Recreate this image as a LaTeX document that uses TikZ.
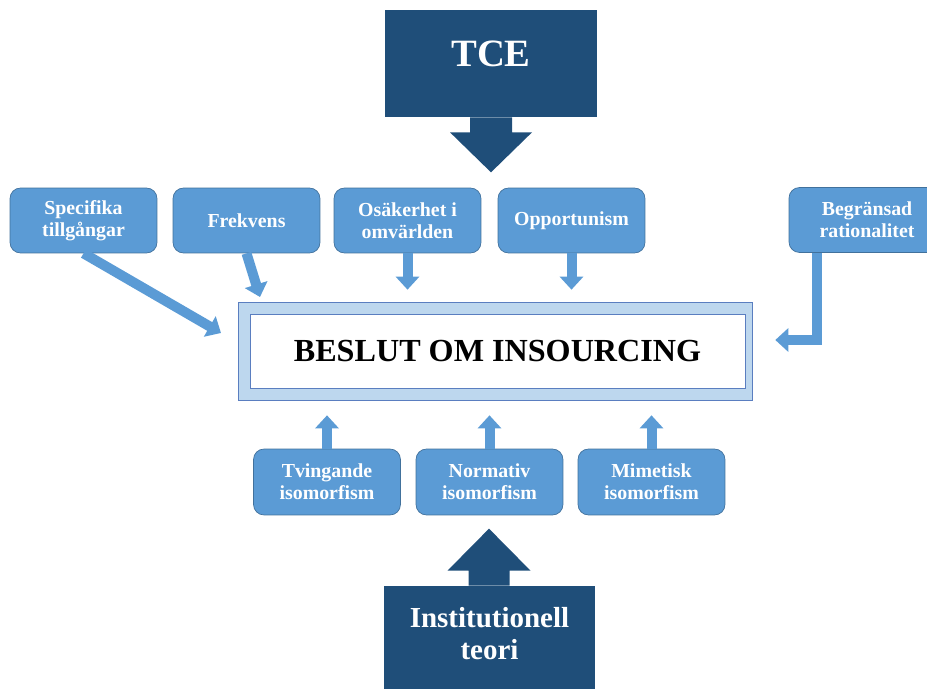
\documentclass[tikz,border=0pt]{standalone}
\usepackage{fontspec}
\setmainfont{Liberation Serif}
\usepackage{xcolor}
\usepackage{tikz}
\usetikzlibrary{arrows.meta, positioning, calc}

\definecolor{boxblue}{HTML}{5B9BD5}
\definecolor{boxline}{HTML}{41719C}
\definecolor{darkblue}{HTML}{1F4E79}
\definecolor{paleblue}{HTML}{BDD7EE}
\definecolor{frameblue}{HTML}{5A7EC0}

\begin{document}
\begin{tikzpicture}[
    x=0.02cm, y=-0.02cm,
    factor/.style={rectangle, rounded corners=6pt, draw=boxline, fill=boxblue, text=white,
        font=\fontsize{11.3}{12.5}\selectfont\bfseries, align=center,
        minimum width=2.94cm, minimum height=1.3cm},
    theory/.style={rectangle, fill=darkblue, text=white, align=center,
        minimum width=4.24cm},
    arrow/.style={-{Triangle[length=0.26cm, width=0.46cm]}, line width=0.2cm, boxblue},
    callout/.style={fill=darkblue}
]
\useasboundingbox (0,0) rectangle (927,689);

% Theories
\node[theory, minimum height=2.14cm, text depth=0.38cm, font=\fontsize{22}{24}\selectfont\bfseries] (tce) at (491,63.5) {TCE};
\node[theory, minimum height=2.16cm, text depth=0.26cm, font=\fontsize{16.5}{18}\selectfont\bfseries] (inst) at (489.5,640) {Institutionell\\teori};

\fill[callout] ([xshift=-0.42cm]tce.south) -- ++(0,15) -- ++(-20,0) -- ++(41,40) -- ++(41,-40) -- ++(-20,0) -- ++(0,-15) -- cycle;
\fill[callout] ([xshift=-0.42cm]inst.north) -- ++(0,-15) -- ++(-21,0) -- ++(41.5,-42) -- ++(41.5,42) -- ++(-21,0) -- ++(0,15) -- cycle;

% Decision
\node[rectangle, draw=frameblue, fill=paleblue, minimum width=10.28cm, minimum height=1.96cm] (main) at (495,351) {};
\node[rectangle, draw=frameblue, fill=white, minimum width=9.9cm, minimum height=1.48cm,
    font=\fontsize{18.3}{20}\selectfont\bfseries] (decision) at (497.5,351) {BESLUT OM INSOURCING};

% TCE factors
\node[factor] (spec) at (83.5,220.5) {Specifika\\tillgångar};
\node[factor] (frek) at (246.5,220.5) {Frekvens};
\node[factor] (osak) at (407.5,220.5) {Osäkerhet i\\omvärlden};
\node[factor] (oppo) at (571.5,220.5) {Opportunism};
\node[factor, minimum width=3.12cm] (begr) at (867,220) {Begränsad\\rationalitet};

% Institutional factors
\node[factor, minimum height=1.32cm] (tving) at (327,482) {Tvingande\\isomorfism};
\node[factor, minimum height=1.32cm] (norm) at (489.5,482) {Normativ\\isomorfism};
\node[factor, minimum height=1.32cm] (mim) at (651.5,482) {Mimetisk\\isomorfism};

\coordinate (spectip) at (221,333);
\coordinate (frektip) at (260,297);

\draw[arrow] (spec.south) -- (spectip);
\draw[arrow] (frek.south) -- (frektip);
\draw[arrow, shorten >=0.24cm] (osak.south) -- (osak.south |- main.north);
\draw[arrow, shorten >=0.24cm] (oppo.south) -- (oppo.south |- main.north);
\draw[arrow, shorten >=0.46cm] ([xshift=0.56cm]begr.south west) |- ([yshift=0.22cm]main.east);

\draw[arrow, shorten >=0.3cm] (tving.north) -- (tving.north |- main.south);
\draw[arrow, shorten >=0.3cm] (norm.north) -- (norm.north |- main.south);
\draw[arrow, shorten >=0.3cm] (mim.north) -- (mim.north |- main.south);

\end{tikzpicture}
\end{document}
